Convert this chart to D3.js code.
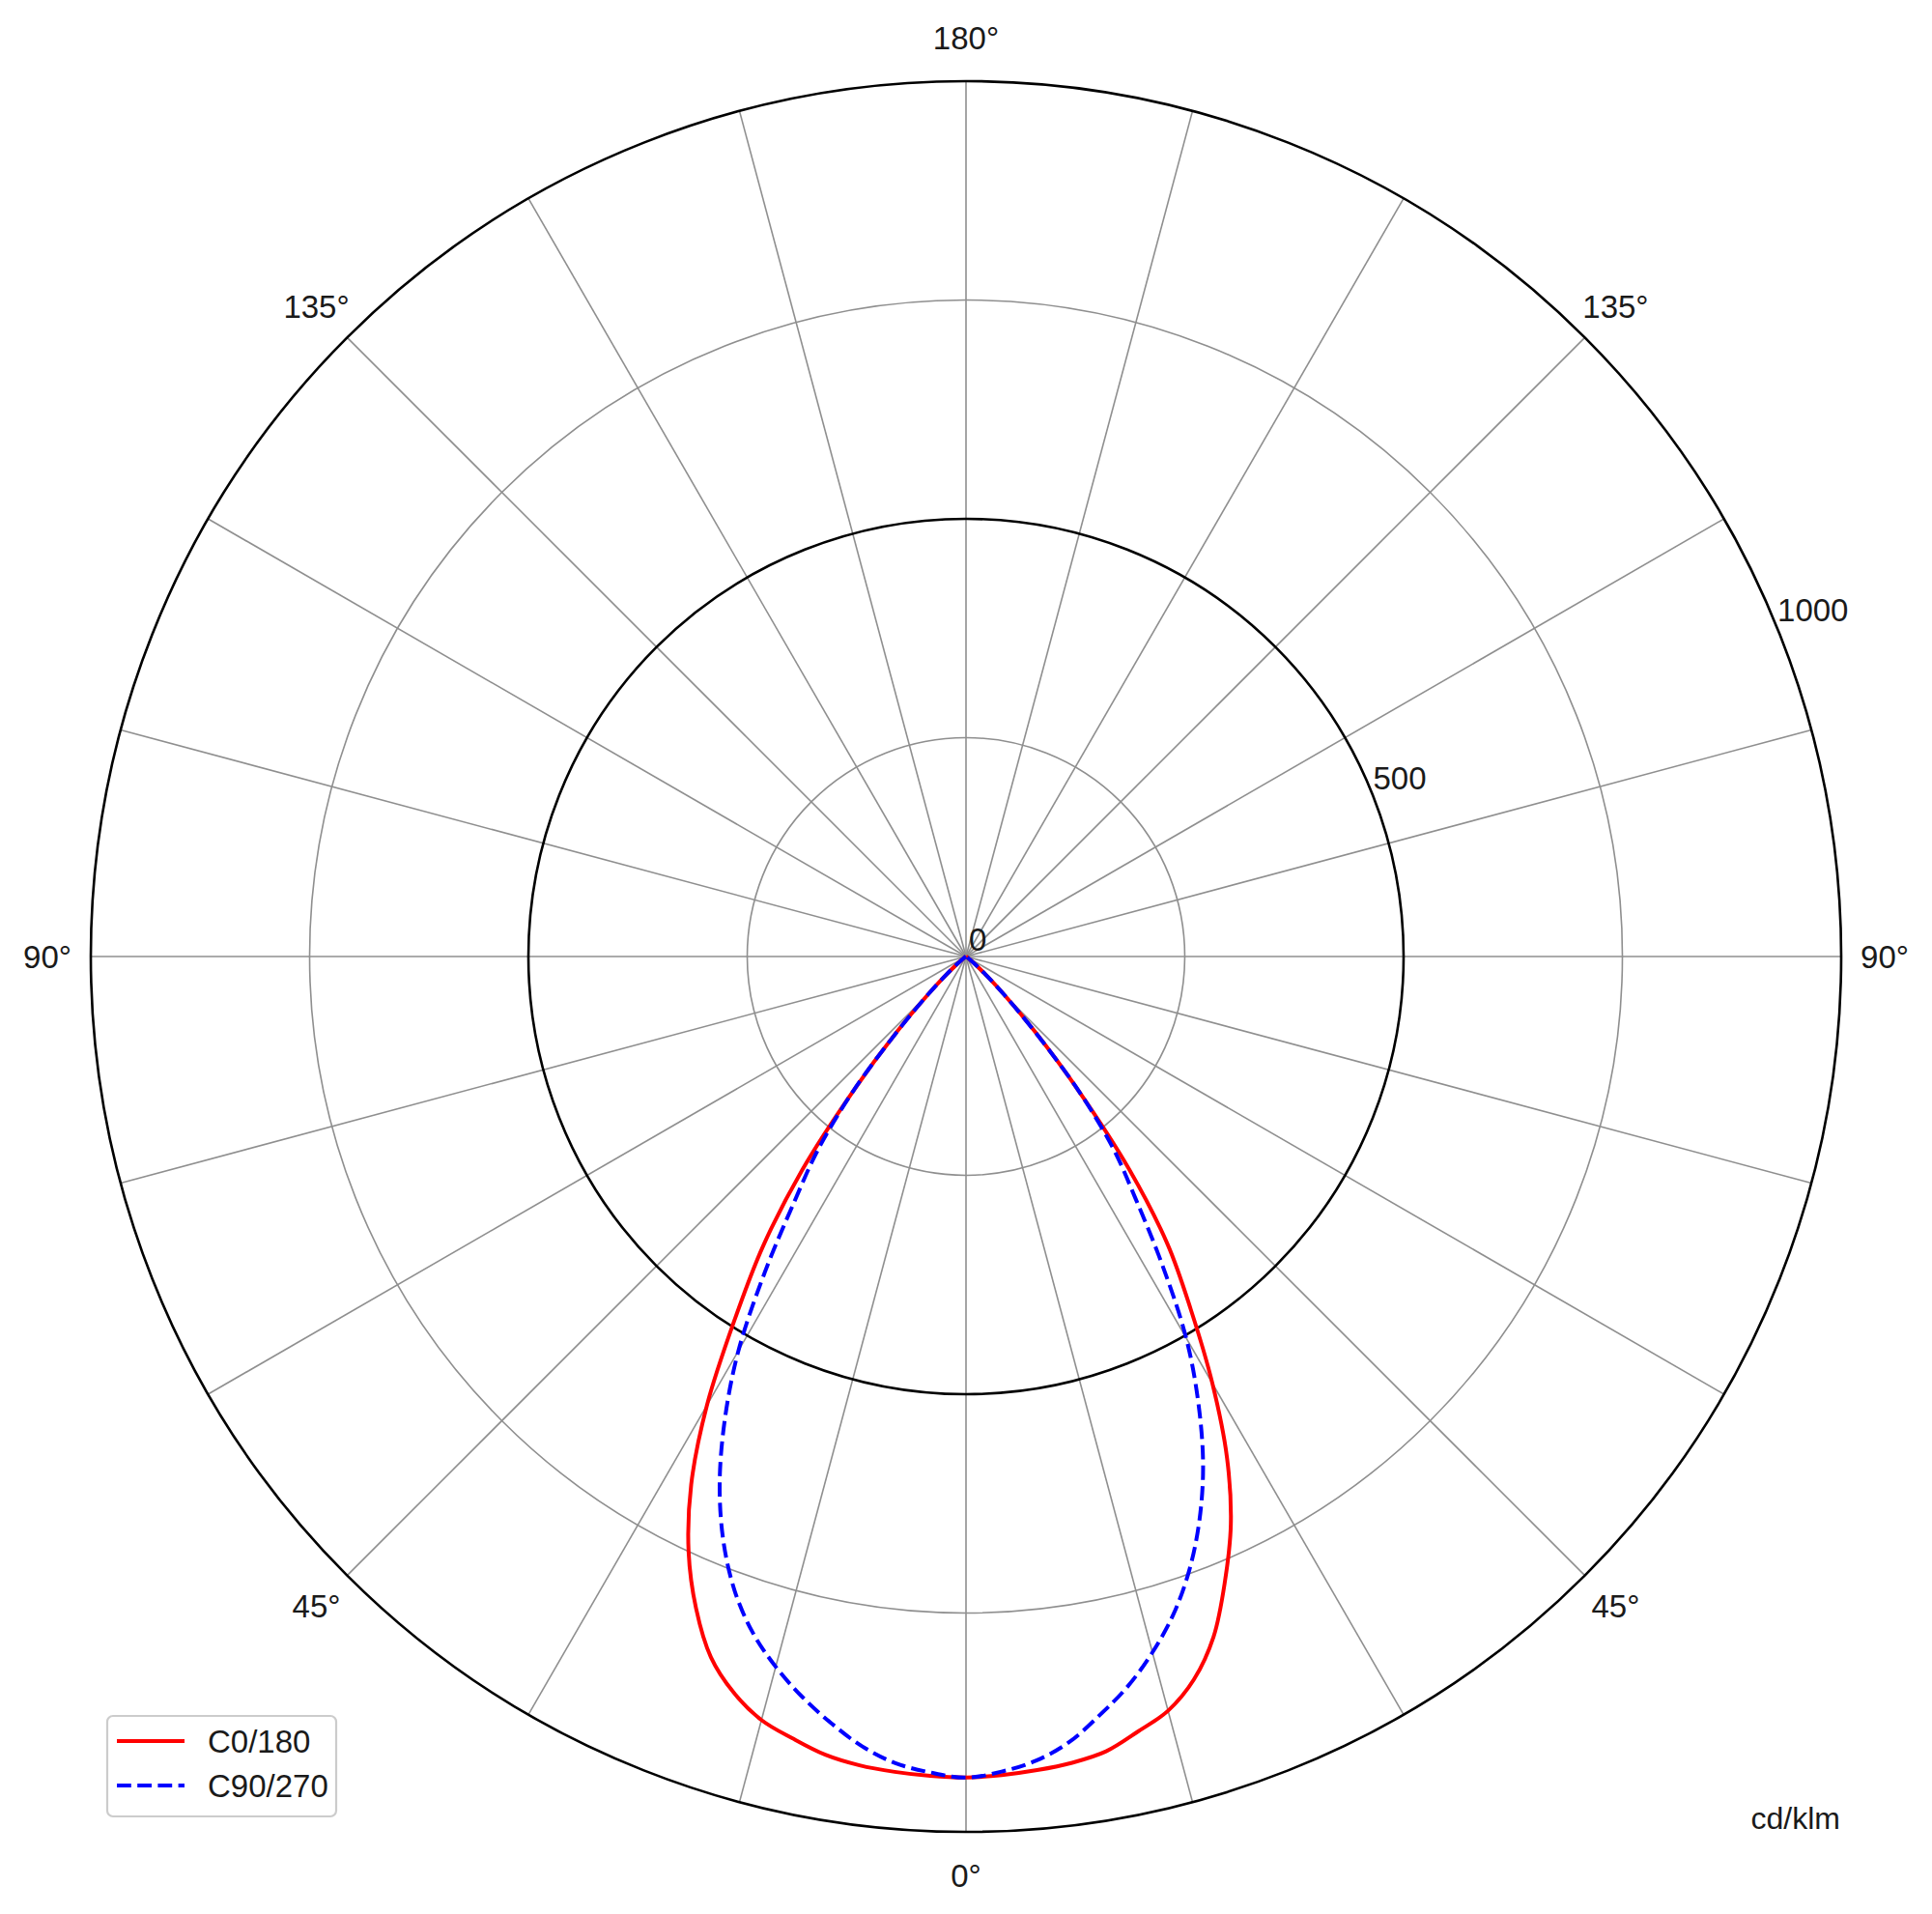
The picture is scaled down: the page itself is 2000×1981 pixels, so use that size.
<!DOCTYPE html>
<html>
<head>
<meta charset="utf-8">
<script src="https://cdn.jsdelivr.net/npm/d3@7"></script>
<style>
  html, body { margin: 0; padding: 0; background: #fff; }
  svg { display: block; }
  text { font-family: "Liberation Sans", Arial, Helvetica, sans-serif; fill: #1a1a1a; }
</style>
</head>
<body>
<svg id="chart" width="2000" height="1981"></svg>
<script>
// ---- data ----
const gammaAngles = [0, 2.5, 5, 7.5, 10, 12.5, 15, 17.5, 20, 22.5, 25, 27.5, 30, 32.5, 35, 37.5, 40, 42.5, 45, 47.5, 50, 55, 60, 70, 80, 90, 120, 150, 180];
// right half of the diagram
const c0 =   [938, 936, 933, 929, 922, 907, 892, 866, 827, 773, 716, 646, 563, 478, 402, 306, 200, 118, 62, 30, 12, 3, 0, 0, 0, 0, 0, 0, 0];
const c90 =  [938, 932, 922, 905, 880, 854, 823, 788, 746, 697, 641, 575, 503, 417, 338, 276, 200, 116, 62, 30, 12, 3, 0, 0, 0, 0, 0, 0, 0];
// left half of the diagram
const c180 = [938, 937, 935, 932, 926, 915, 903, 882, 852, 806, 750, 680, 592, 492, 405, 308, 200, 118, 62, 30, 12, 3, 0, 0, 0, 0, 0, 0, 0];
const c270 = [938, 933, 925, 910, 889, 866, 840, 810, 772, 724, 666, 597, 520, 428, 342, 277, 200, 116, 62, 30, 12, 3, 0, 0, 0, 0, 0, 0, 0];
const seriesNames = ["C0/180", "C90/270"];
const radialTicks = [0, 500, 1000];
const minorRings = [250, 750];
const majorRings = [500, 1000];
const angleTickValues = [0, 45, 90, 135, 180];
const spokeStep = 15;
const unitLabel = "cd/klm";

// ---- layout ----
const cx = 1000, cy = 990, R = 906;
const svg = d3.select("#chart");
const r = d3.scaleLinear().domain([0, 1000]).range([0, R]);
const toRad = d => d * Math.PI / 180;
// gamma measured from straight down, positive to the right
const px = (g, v) => cx + r(v) * Math.sin(toRad(g));
const py = (g, v) => cy + r(v) * Math.cos(toRad(g));

const g = svg.append("g");

// spokes
const spokes = d3.range(0, 360, spokeStep);
g.selectAll("line.spoke").data(spokes).join("line")
  .attr("x1", cx).attr("y1", cy)
  .attr("x2", d => px(d, 1000)).attr("y2", d => py(d, 1000))
  .attr("stroke", "#8f8f8f").attr("stroke-width", 1.6);

// minor rings
g.selectAll("circle.minor").data(minorRings).join("circle")
  .attr("cx", cx).attr("cy", cy).attr("r", d => r(d))
  .attr("fill", "none").attr("stroke", "#8f8f8f").attr("stroke-width", 1.6);

// major rings
g.selectAll("circle.major").data(majorRings).join("circle")
  .attr("cx", cx).attr("cy", cy).attr("r", d => r(d))
  .attr("fill", "none").attr("stroke", "#000").attr("stroke-width", 2.6);

// curves
function fullCurve(rightVals, leftVals) {
  const pts = [];
  for (let i = gammaAngles.length - 1; i > 0; i--) pts.push([-gammaAngles[i], leftVals[i]]);
  for (let i = 0; i < gammaAngles.length; i++) pts.push([gammaAngles[i], rightVals[i]]);
  return pts;
}
const radial = d3.lineRadial()
  .angle(d => Math.PI - toRad(d[0]))
  .radius(d => r(d[1]))
  .curve(d3.curveCatmullRom.alpha(0.5));

const curves = svg.append("g").attr("transform", `translate(${cx},${cy})`);
curves.append("path").datum(fullCurve(c0, c180))
  .attr("d", radial).attr("fill", "none")
  .attr("stroke", "#ff0000").attr("stroke-width", 4).attr("stroke-linejoin", "round");
curves.append("path").datum(fullCurve(c90, c270))
  .attr("d", radial).attr("fill", "none")
  .attr("stroke", "#0000ff").attr("stroke-width", 4).attr("stroke-dasharray", "14.8,6.4").attr("stroke-linejoin", "round");

// angle labels
const angleLabels = [];
angleTickValues.forEach(a => {
  angleLabels.push(a);
  if (a !== 0 && a !== 180) angleLabels.push(-a);
});
svg.selectAll("text.ang").data(angleLabels).join("text")
  .attr("x", d => cx + 951 * Math.sin(toRad(d)))
  .attr("y", d => cy + 951 * Math.cos(toRad(d)))
  .attr("text-anchor", "middle").attr("dominant-baseline", "central")
  .attr("font-size", 33)
  .text(d => Math.abs(d) + "°");

// radial labels at 22.5° above horizontal on the right
const rl = toRad(22.5);
svg.selectAll("text.rl").data(radialTicks).join("text")
  .attr("x", d => cx + r(d) * Math.cos(rl) + 3)
  .attr("y", d => cy - r(d) * Math.sin(rl) + (d === 0 ? -6 : 0))
  .attr("text-anchor", "start")
  .attr("font-size", 33)
  .text(d => d);

// unit label
svg.append("text").attr("x", 1905).attr("y", 1893)
  .attr("text-anchor", "end").attr("font-size", 32).text(unitLabel);

// legend
const lg = svg.append("g");
lg.append("rect").attr("x", 111).attr("y", 1776).attr("width", 237).attr("height", 104)
  .attr("rx", 6).attr("fill", "#fff").attr("fill-opacity", 0.8)
  .attr("stroke", "#cccccc").attr("stroke-width", 2.2);
const legendRows = [
  { name: seriesNames[0], color: "#ff0000", dash: null, y: 1802 },
  { name: seriesNames[1], color: "#0000ff", dash: "14.8,6.4", y: 1848 }
];
legendRows.forEach(row => {
  lg.append("line").attr("x1", 121).attr("x2", 191).attr("y1", row.y).attr("y2", row.y)
    .attr("stroke", row.color).attr("stroke-width", 4)
    .attr("stroke-dasharray", row.dash);
  lg.append("text").attr("x", 215).attr("y", row.y).attr("dominant-baseline", "central")
    .attr("font-size", 33).text(row.name);
});
</script>
</body>
</html>
